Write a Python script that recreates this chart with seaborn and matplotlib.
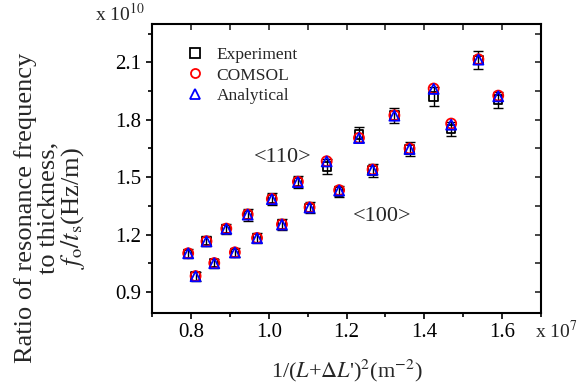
import numpy as np
import pandas as pd
import matplotlib
matplotlib.use("Agg")
import matplotlib.pyplot as plt
import seaborn as sns
from matplotlib.ticker import MultipleLocator, FormatStrFormatter
from matplotlib.lines import Line2D

# ---- data (x in units of 1e7 m^-2, y in units of 1e10 Hz/m) ----
x_110 = [0.793, 0.840, 0.891, 0.946, 1.008, 1.075, 1.149, 1.232, 1.323, 1.424, 1.539]
exp_110 = [1.100, 1.165, 1.230, 1.302, 1.385, 1.475, 1.555, 1.722, 1.822, 1.922, 2.112]
err_110 = [0.024, 0.026, 0.027, 0.029, 0.030, 0.032, 0.040, 0.040, 0.040, 0.050, 0.046]
comsol_110 = [1.102, 1.165, 1.231, 1.305, 1.386, 1.476, 1.583, 1.705, 1.823, 1.963, 2.116]
anal_110 = [1.102, 1.164, 1.230, 1.304, 1.385, 1.474, 1.582, 1.704, 1.821, 1.961, 2.114]

x_100 = [0.812, 0.860, 0.913, 0.970, 1.034, 1.105, 1.181, 1.267, 1.362, 1.469, 1.590]
exp_100 = [0.980, 1.050, 1.105, 1.180, 1.252, 1.340, 1.425, 1.535, 1.645, 1.752, 1.905]
err_100 = [0.022, 0.023, 0.024, 0.026, 0.028, 0.030, 0.031, 0.034, 0.036, 0.038, 0.042]
comsol_100 = [0.983, 1.051, 1.107, 1.182, 1.253, 1.342, 1.432, 1.540, 1.650, 1.780, 1.926]
anal_100 = [0.982, 1.050, 1.106, 1.181, 1.252, 1.341, 1.430, 1.538, 1.647, 1.774, 1.922]

series_names = ["Experiment", "COMSOL", "Analytical"]
x_ticks = [0.8, 1.0, 1.2, 1.4, 1.6]
y_ticks = [0.9, 1.2, 1.5, 1.8, 2.1]

x_all = x_110 + x_100
df = pd.DataFrame({
    "x": x_all * 3,
    "y": exp_110 + exp_100 + comsol_110 + comsol_100 + anal_110 + anal_100,
    "series": [series_names[0]] * 22 + [series_names[1]] * 22 + [series_names[2]] * 22,
})
err_all = err_110 + err_100

sns.set_style("ticks")
plt.rcParams["font.family"] = ["Liberation Serif", "DejaVu Serif"]
plt.rcParams["mathtext.fontset"] = "stix"

fig = plt.figure(figsize=(5.82, 3.88), dpi=100)
ax = fig.add_axes([0.2612, 0.1933, 0.6684, 0.7448])

styles = {
    "Experiment": dict(marker="s", color="black", s=36),
    "COMSOL": dict(marker="o", color="red", s=52),
    "Analytical": dict(marker="^", color="blue", s=52),
}

exp_df = df[df["series"] == "Experiment"]
ax.errorbar(exp_df["x"], exp_df["y"], yerr=err_all, fmt="none",
            ecolor="black", elinewidth=1.0, capsize=3.5, capthick=1.0, zorder=2)

for i, name in enumerate(series_names):
    st = styles[name]
    sub = df[df["series"] == name]
    sns.scatterplot(data=sub, x="x", y="y", ax=ax, marker=st["marker"], s=st["s"],
                    color=st["color"], facecolor="none", edgecolor=st["color"],
                    linewidth=1.3, label=name, zorder=3 + i, legend=False)

handles = [Line2D([], [], linestyle="none", marker=styles[n]["marker"], markersize=6.5,
                  markerfacecolor="none", markeredgecolor=styles[n]["color"],
                  markeredgewidth=1.3) for n in series_names]
ax.legend(handles, series_names, loc="upper left", bbox_to_anchor=(0.065, 0.945),
          frameon=False, fontsize=12.5, handletextpad=0.65, labelspacing=0.25,
          handlelength=1.2, borderaxespad=0)

ax.set_xlim(0.7, 1.7)
ax.set_ylim(0.79, 2.30)
ax.set_xticks(x_ticks)
ax.set_yticks(y_ticks)
ax.xaxis.set_major_formatter(FormatStrFormatter("%.1f"))
ax.yaxis.set_major_formatter(FormatStrFormatter("%.1f"))
ax.xaxis.set_minor_locator(MultipleLocator(0.1))
ax.yaxis.set_minor_locator(MultipleLocator(0.15))

for sp in ax.spines.values():
    sp.set_visible(True)
    sp.set_linewidth(1.5)
    sp.set_color("black")

ax.tick_params(axis="both", which="both", direction="out", top=False, right=False,
               colors="black", width=1.2, labelsize=15)
ax.tick_params(which="major", length=4)
ax.tick_params(which="minor", length=3)

axt = ax.secondary_xaxis("top")
axt.set_xticks(np.arange(0.7, 1.71, 0.1))
axt.tick_params(direction="in", length=4, width=1.2, labeltop=False)
axt.set_xticklabels([])
axt.spines["top"].set_visible(False)
axr = ax.secondary_yaxis("right")
axr.set_yticks(np.arange(0.9, 2.26, 0.15))
axr.tick_params(direction="in", length=4, width=1.2, labelright=False)
axr.set_yticklabels([])
axr.spines["right"].set_visible(False)

ax.set_xlabel("")
ax.set_ylabel("")
fig.text(347 / 582, 1 - 384 / 388, r"1/($L$+$\Delta L$')$^2$(m$^{-2}$)",
         fontsize=16, ha="center", va="bottom")
fig.text(51 / 582, 1 - 208 / 388,
         "Ratio of resonance frequency\nto thickness,\n$f_{\\mathrm{o}}/t_{\\mathrm{s}}$(Hz/m)",
         fontsize=19, rotation=90, ha="center", va="center", multialignment="center",
         linespacing=1.0)

ax.text(1.036, 1.60, "<110>", fontsize=16, ha="center", va="center")
ax.text(1.292, 1.294, "<100>", fontsize=16, ha="center", va="center")

fig.text(95 / 582, 1 - 21 / 388, r"x 10$^{10}$", fontsize=14, ha="left", va="baseline")
fig.text(535 / 582, 1 - 338 / 388, r"x 10$^{7}$", fontsize=14, ha="left", va="baseline")

fig.savefig("out.png", dpi=100)
